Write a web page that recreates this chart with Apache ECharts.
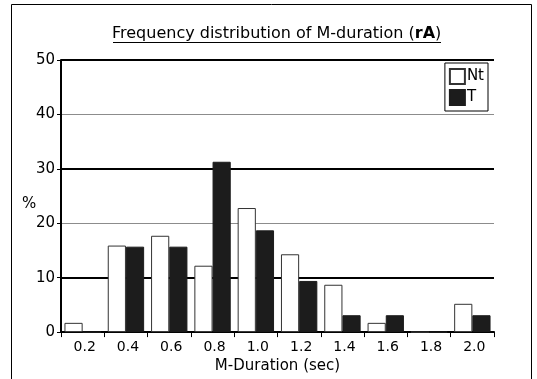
<!DOCTYPE html>
<html>
<head>
<meta charset="utf-8">
<script src="https://cdn.jsdelivr.net/npm/echarts@6/dist/echarts.min.js"></script>
<style>html,body{margin:0;padding:0;background:#fff;overflow:hidden;}#c{width:537px;height:379px;}</style>
</head>
<body>
<div id="c"></div>
<script>
const categories = ['0.2','0.4','0.6','0.8','1.0','1.2','1.4','1.6','1.8','2.0'];
const ntValues = [1.7, 15.9, 17.7, 12.2, 22.8, 14.3, 8.7, 1.7, 0, 5.2];
const tValues = [0, 15.7, 15.7, 31.3, 18.7, 9.4, 3.1, 3.1, 0, 3.1];
const majorLines = [10, 30, 50];
const FONT = 'DejaVu Sans';

const chart = echarts.init(document.getElementById('c'), null, {renderer: 'canvas', width: 537, height: 379});
chart.setOption({
  backgroundColor: '#fff',
  animation: false,
  textStyle: {fontFamily: FONT},
  title: {
    text: '{a|Frequency distribution of M-duration (}{b|rA}{a|)}',
    left: 107,
    top: 21,
    textStyle: {
      fontWeight: 'normal',
      rich: {
        a: {fontFamily: FONT, fontSize: 16, color: '#000', fontWeight: 'normal'},
        b: {fontFamily: FONT, fontSize: 16, color: '#000', fontWeight: 'bold'}
      }
    }
  },
  graphic: [
    {type: 'rect', shape: {x: 11.5, y: 4.5, width: 520, height: 400}, style: {fill: 'none', stroke: '#000', lineWidth: 1}, silent: true},
    {type: 'line', shape: {x1: 113, y1: 42.5, x2: 441, y2: 42.5}, style: {stroke: '#000', lineWidth: 1}, silent: true},
    {type: 'text', left: 22, top: 197, style: {text: '%', fontFamily: FONT, fontSize: 15, fill: '#000'}}
  ],
  legend: {
    orient: 'vertical',
    right: 49,
    top: 63,
    borderColor: '#000',
    borderWidth: 1,
    padding: [5, 4, 5, 4],
    itemWidth: 15,
    itemHeight: 15,
    itemGap: 4,
    icon: 'rect',
    textStyle: {fontFamily: FONT, fontSize: 15, color: '#000', padding: [0, 0, 0, -3]},
    data: ['Nt', 'T']
  },
  grid: {left: 61, right: 43, top: 60, bottom: 42},
  xAxis: {
    type: 'category',
    data: categories,
    name: 'M-Duration (sec)',
    nameLocation: 'middle',
    nameGap: 25,
    nameTextStyle: {fontFamily: FONT, fontSize: 15, color: '#000'},
    axisLine: {lineStyle: {color: '#000', width: 2}},
    axisTick: {show: true, length: 5, lineStyle: {color: '#000', width: 1}},
    axisLabel: {fontFamily: FONT, fontSize: 14, color: '#000', margin: 8, padding: [0, 0, 0, 4]},
    splitLine: {show: false}
  },
  yAxis: {
    type: 'value',
    min: 0,
    max: 50,
    interval: 10,
    axisLine: {show: true, lineStyle: {color: '#000', width: 2}},
    axisTick: {show: true, length: 4, lineStyle: {color: '#000'}},
    axisLabel: {fontFamily: FONT, fontSize: 15, color: '#000', margin: 6},
    splitLine: {show: true, lineStyle: {color: '#8c8c8c', width: 1}}
  },
  series: [
    {
      name: 'Nt',
      type: 'bar',
      data: ntValues,
      barGap: '0%',
      barCategoryGap: '16%',
      itemStyle: {color: '#fff', borderColor: '#333', borderWidth: 1},
      z: 3,
      markLine: {
        silent: true,
        symbol: 'none',
        label: {show: false},
        z: 1,
        lineStyle: {color: '#000', width: 2, type: 'solid'},
        data: majorLines.map(v => ({yAxis: v}))
      }
    },
    {
      name: 'T',
      type: 'bar',
      data: tValues,
      itemStyle: {color: '#1c1c1c', borderColor: '#1c1c1c', borderWidth: 1},
      z: 3
    }
  ]
});
</script>
</body>
</html>
